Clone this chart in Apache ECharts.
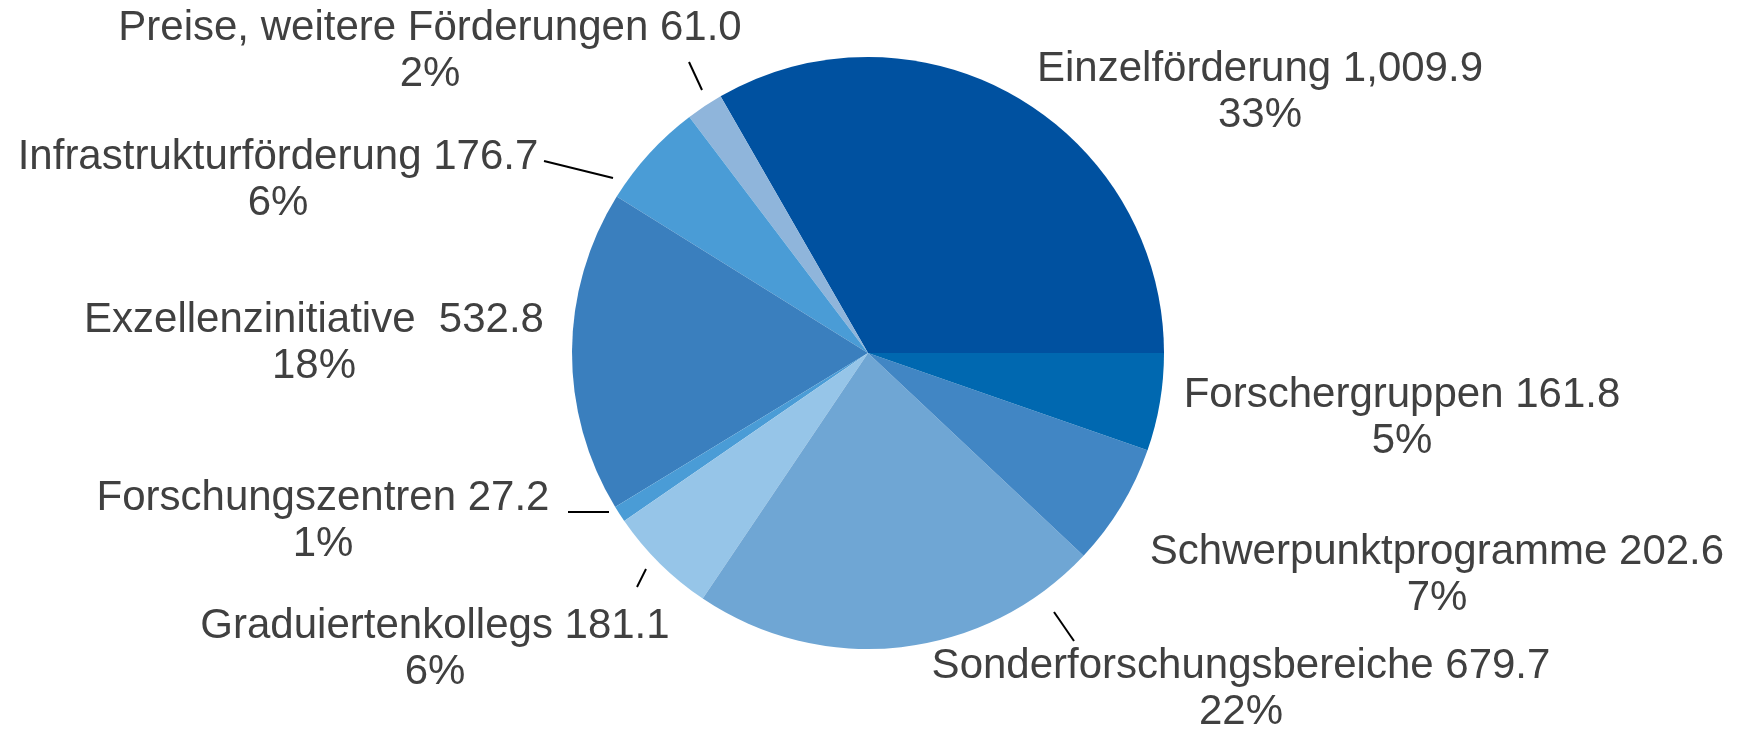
<!DOCTYPE html>
<html>
<head>
<meta charset="utf-8">
<title>Bewilligungen nach Programmen</title>
<script src="https://cdn.jsdelivr.net/npm/echarts@6/dist/echarts.min.js"></script>
<style>
    html, body { margin: 0; padding: 0; background: #fff; }
    #chart { width: 1739px; height: 734px; }
</style>
</head>
<body>
<div id="chart"></div>
<script>
    // Programme und Summen (Mio.)
    var categories = [
        'Einzelförderung',
        'Preise, weitere Förderungen',
        'Infrastrukturförderung',
        'Exzellenzinitiative ',
        'Forschungszentren',
        'Graduiertenkollegs',
        'Sonderforschungsbereiche',
        'Schwerpunktprogramme',
        'Forschergruppen'
    ]
    var values = [1009.9, 61.0, 176.7, 532.8, 27.2, 181.1, 679.7, 202.6, 161.8]

    // Farben der Segmente
    var colors = ['#0051a0', '#8fb5db', '#4a9cd6', '#3a7fbe', '#4a9cd6', '#96c5e8', '#6fa6d4', '#4186c4', '#0068b0']

    // Mittelpunkt der Beschriftung (px)
    var labelPos = [
        [1260, 92], [430, 51], [278, 180], [314, 343], [323, 521],
        [435, 649], [1241, 689], [1437, 575], [1402, 418]
    ]
    // Hinweislinien, null = keine
    var leaderLines = [
        null,
        [[702, 90], [689, 62]],
        [[613, 178], [544, 161]],
        null,
        [[609, 512], [568, 512]],
        [[646, 569], [637, 587]],
        [[1054, 612], [1074, 641]],
        null,
        null
    ]

    var chart = echarts.init(document.getElementById('chart'))

    var pieData = categories.map(function (name, i) {
        return {
            name: name,
            value: values[i],
            itemStyle: { color: colors[i] },
            labelLine: { show: leaderLines[i] !== null }
        }
    })

    chart.setOption({
        animation: false,
        series: [{
            type: 'pie',
            center: [868, 353],
            radius: 296,
            startAngle: 0,
            clockwise: false,
            avoidLabelOverlap: false,
            data: pieData,
            itemStyle: { borderWidth: 0 },
            emphasis: { disabled: true },
            label: {
                position: 'outside',
                fontFamily: '"Liberation Sans", Arial, sans-serif',
                fontSize: 42,
                lineHeight: 46,
                color: '#404040',
                align: 'center',
                formatter: function (p) {
                    var v = p.value.toLocaleString('en-US', { minimumFractionDigits: 1, maximumFractionDigits: 1 })
                    return p.name + ' ' + v + '\n' + Math.round(p.percent) + '%'
                }
            },
            labelLine: {
                lineStyle: { color: '#000', width: 2 }
            },
            labelLayout: function (params) {
                var i = params.dataIndex
                var out = {
                    x: labelPos[i][0],
                    y: labelPos[i][1],
                    align: 'center',
                    verticalAlign: 'middle'
                }
                if (leaderLines[i]) {
                    out.labelLinePoints = leaderLines[i]
                }
                return out
            }
        }]
    })
</script>
</body>
</html>
